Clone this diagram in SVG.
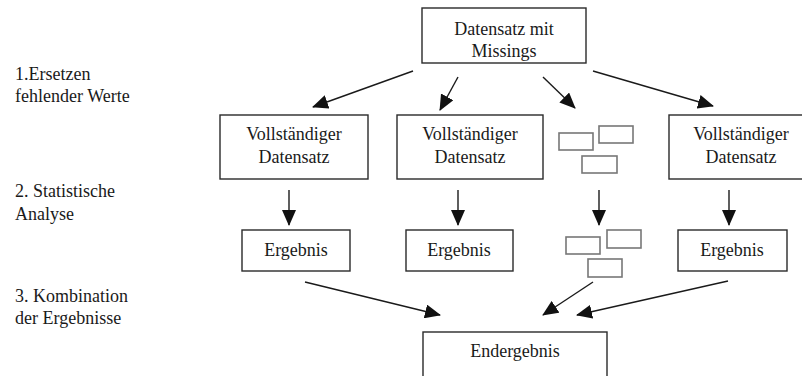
<svg xmlns="http://www.w3.org/2000/svg" width="802" height="376" viewBox="0 0 802 376">
<style>
text{font-family:'Liberation Serif','DejaVu Serif','Times New Roman',serif;font-size:18px;fill:#1a1a1a}
.c{text-anchor:middle}
.box{fill:#fff;stroke:#2a2a2a;stroke-width:1.4}
.sm{fill:#fff;stroke:#777;stroke-width:1.6}
.ln{stroke:#1a1a1a;stroke-width:1.4;fill:none;marker-end:url(#ah)}
</style>
<defs>
<marker id="ah" markerUnits="userSpaceOnUse" markerWidth="16" markerHeight="14" refX="15" refY="7" orient="auto">
<path d="M0,0 L16,7 L0,14 z" fill="#111"/>
</marker>
</defs>
<rect width="802" height="376" fill="#fff"/>
<g id="labels" font-family="Liberation Serif, serif">
<text x="15" y="80">1.Ersetzen</text>
<text x="15" y="102">fehlender Werte</text>
<text x="15" y="197">2. Statistische</text>
<text x="15" y="220">Analyse</text>
<text x="15" y="302">3. Kombination</text>
<text x="15" y="324">der Ergebnisse</text>
</g>
<g id="connectors">
<line class="ln" x1="413" y1="71" x2="313" y2="107"/>
<line class="ln" x1="458" y1="77" x2="440" y2="110"/>
<line class="ln" x1="543" y1="77" x2="575" y2="108"/>
<line class="ln" x1="593" y1="71" x2="713" y2="106"/>
<line class="ln" x1="289" y1="190" x2="289" y2="225"/>
<line class="ln" x1="458" y1="190" x2="458" y2="225"/>
<line class="ln" x1="599" y1="190" x2="599" y2="225"/>
<line class="ln" x1="729" y1="190" x2="729" y2="225"/>
<line class="ln" x1="305" y1="282" x2="440" y2="315"/>
<line class="ln" x1="593" y1="282" x2="543" y2="315"/>
<line class="ln" x1="728" y1="281" x2="577" y2="315"/>
</g>
<g id="n-datensatz">
<rect class="box" x="422" y="8" width="164" height="55"/>
<text class="c" x="504" y="35">Datensatz mit</text>
<text class="c" x="504" y="57">Missings</text>
</g>
<g id="n-voll1">
<rect class="box" x="220" y="115" width="148" height="64"/>
<text class="c" x="294" y="140">Vollständiger</text>
<text class="c" x="294" y="163">Datensatz</text>
</g>
<g id="n-voll2">
<rect class="box" x="397" y="115" width="146" height="64"/>
<text class="c" x="470" y="140">Vollständiger</text>
<text class="c" x="470" y="163">Datensatz</text>
</g>
<g id="n-multi1">
<rect class="sm" x="559" y="133" width="34" height="17"/>
<rect class="sm" x="599" y="126" width="34" height="17"/>
<rect class="sm" x="582" y="156" width="35" height="17"/>
</g>
<g id="n-voll4">
<rect class="box" x="669" y="115" width="146" height="64"/>
<text class="c" x="741" y="140">Vollständiger</text>
<text class="c" x="741" y="163">Datensatz</text>
</g>
<g id="n-erg1">
<rect class="box" x="242" y="230" width="108" height="41"/>
<text class="c" x="296" y="256">Ergebnis</text>
</g>
<g id="n-erg2">
<rect class="box" x="406" y="230" width="107" height="41"/>
<text class="c" x="459" y="256">Ergebnis</text>
</g>
<g id="n-multi2">
<rect class="sm" x="566" y="237" width="34" height="17"/>
<rect class="sm" x="607" y="230" width="34" height="18"/>
<rect class="sm" x="588" y="259" width="34" height="18"/>
</g>
<g id="n-erg4">
<rect class="box" x="678" y="230" width="109" height="41"/>
<text class="c" x="732" y="256">Ergebnis</text>
</g>
<g id="n-end">
<rect class="box" x="423" y="332" width="184" height="50"/>
<text class="c" x="515" y="357">Endergebnis</text>
</g>
</svg>
